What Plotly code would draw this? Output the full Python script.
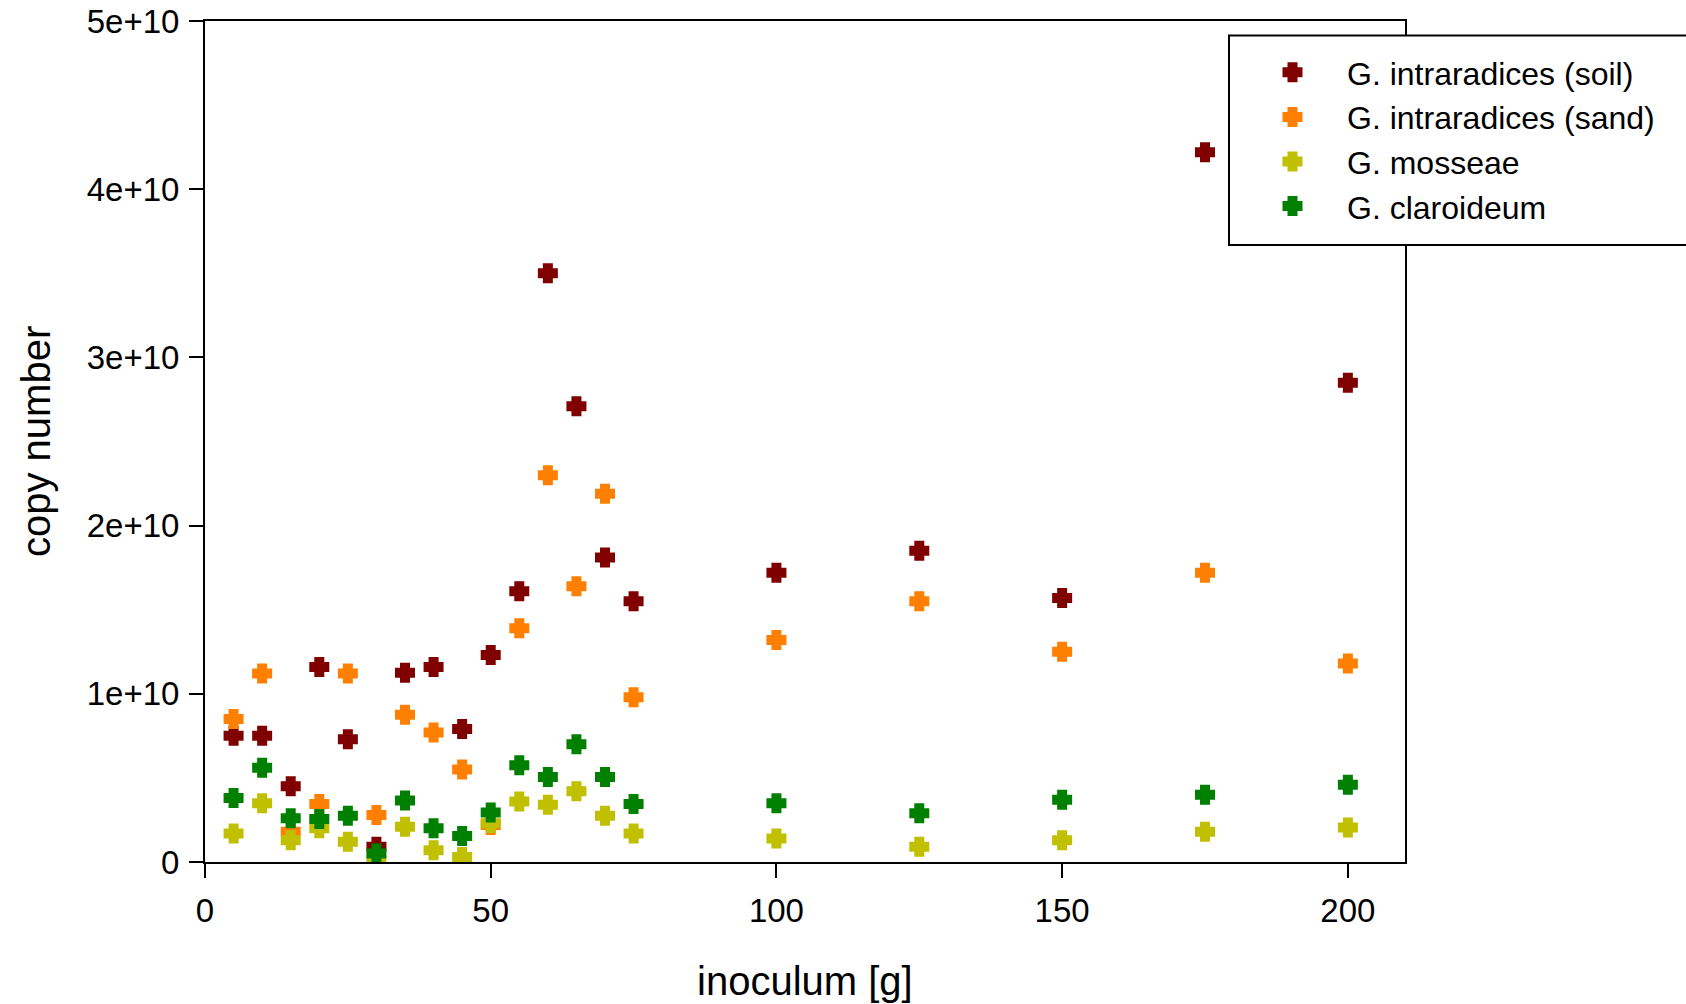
import plotly.graph_objects as go

inoculum = [5, 10, 15, 20, 25, 30, 35, 40, 45, 50, 55, 60, 65, 70, 75, 100, 125, 150, 175, 200]

soil = [7.5e9, 7.5e9, 4.5e9, 11.6e9, 7.3e9, 0.9e9, 11.25e9, 11.6e9, 7.9e9, 12.3e9,
        16.1e9, 35.0e9, 27.1e9, 18.1e9, 15.5e9, 17.2e9, 18.5e9, 15.7e9, 42.2e9, 28.5e9]
sand = [8.5e9, 11.2e9, 1.8e9, 3.45e9, 11.2e9, 2.8e9, 8.75e9, 7.7e9, 5.5e9, 2.2e9,
        13.9e9, 23.0e9, 16.4e9, 21.9e9, 9.8e9, 13.2e9, 15.5e9, 12.5e9, 17.2e9, 11.8e9]
mosseae = [1.7e9, 3.5e9, 1.3e9, 2.0e9, 1.2e9, 0.1e9, 2.1e9, 0.7e9, 0.3e9, 2.3e9,
           3.6e9, 3.4e9, 4.2e9, 2.75e9, 1.7e9, 1.4e9, 0.9e9, 1.3e9, 1.8e9, 2.05e9]
claroideum = [3.8e9, 5.6e9, 2.6e9, 2.55e9, 2.75e9, 0.5e9, 3.65e9, 2.0e9, 1.55e9, 2.95e9,
              5.75e9, 5.05e9, 7.0e9, 5.05e9, 3.45e9, 3.5e9, 2.9e9, 3.7e9, 4.0e9, 4.6e9]

series_names = ["G. intraradices (soil)", "G. intraradices (sand)", "G. mosseae", "G. claroideum"]
series_values = [soil, sand, mosseae, claroideum]
series_colors = ["#800000", "#FF8000", "#C0C000", "#008000"]

x_ticks = [0, 50, 100, 150, 200]
y_ticks = [0, 1e10, 2e10, 3e10, 4e10, 5e10]
y_tick_labels = ["0", "1e+10", "2e+10", "3e+10", "4e+10", "5e+10"]

FONT = "Liberation Sans, Arial, Helvetica, sans-serif"

fig = go.Figure()
for name, vals, col in zip(series_names, series_values, series_colors):
    fig.add_trace(go.Scatter(
        x=inoculum, y=vals, mode="markers", name=name,
        marker=dict(symbol="cross", size=12.5, color=col,
                    line=dict(color=col, width=5)),
    ))

W, H = 1686, 1004
L, R, T, B = 205, 281, 21, 142
PW, PH = W - L - R, H - T - B

fig.update_layout(
    width=W, height=H,
    margin=dict(l=L, r=R, t=T, b=B, pad=0, autoexpand=False),
    paper_bgcolor="white", plot_bgcolor="white",
    font=dict(family=FONT, size=32, color="black"),
    showlegend=True,
    legend=dict(
        x=(1229 + 9 - L) / PW, xanchor="left",
        y=1 - (45 - T) / PH, yanchor="top",
        bgcolor="rgba(0,0,0,0)", borderwidth=0,
        font=dict(family=FONT, size=32, color="black"),
        itemwidth=99, tracegroupgap=0,
    ),
    xaxis=dict(
        range=[0, 210], tickmode="array", tickvals=x_ticks,
        ticks="outside", ticklen=14, tickwidth=2, tickcolor="black",
        showline=True, linecolor="black", linewidth=2, mirror=True,
        showgrid=False, zeroline=False, automargin=False,
        ticklabelstandoff=4,
        tickfont=dict(family=FONT, size=33, color="black"),
    ),
    yaxis=dict(
        range=[0, 5e10], tickmode="array", tickvals=y_ticks, ticktext=y_tick_labels,
        ticks="outside", ticklen=14, tickwidth=2, tickcolor="black",
        showline=True, linecolor="black", linewidth=2, mirror=True,
        showgrid=False, zeroline=False, automargin=False,
        ticklabelstandoff=3,
        tickfont=dict(family=FONT, size=33, color="black"),
    ),
    shapes=[dict(
        type="rect", xref="paper", yref="paper", layer="above",
        x0=(1229 - L) / PW, x1=(1700 - L) / PW,
        y0=1 - (245 - T) / PH, y1=1 - (35.5 - T) / PH,
        fillcolor="white", line=dict(color="black", width=2),
    )],
    annotations=[
        dict(text="inoculum [g]", xref="paper", yref="paper",
             x=0.5, y=-(981 - (H - B)) / PH, xanchor="center", yanchor="middle",
             showarrow=False, font=dict(family=FONT, size=40, color="black")),
        dict(text="copy number", xref="paper", yref="paper", textangle=-90,
             x=-(L - 35.5) / PW, y=0.5, xanchor="center", yanchor="middle",
             showarrow=False, font=dict(family=FONT, size=40, color="black")),
    ],
)

fig.write_html("out.html")
